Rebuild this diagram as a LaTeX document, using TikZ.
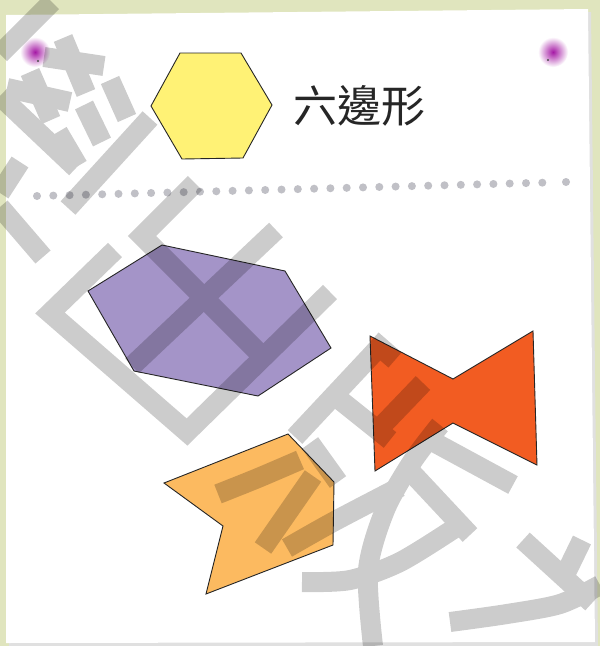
\documentclass[tikz,border=0pt]{standalone}
\usepackage{fontspec}
\newfontfamily\cjkfont{Noto Sans CJK TC}
\definecolor{boardbg}{RGB}{224,229,190}
\definecolor{hexyellow}{RGB}{255,242,117}
\definecolor{hexpurple}{RGB}{164,148,200}
\definecolor{bowred}{RGB}{242,92,34}
\definecolor{arrowtan}{RGB}{252,186,96}
\definecolor{dotgray}{RGB}{192,192,198}
\definecolor{pinpurple}{RGB}{165,25,165}
\tikzset{
  shapeline/.style={draw=black!85,line width=0.9pt,line join=miter},
  wmstroke/.style={line width=20pt,line cap=butt,line join=miter},
}
\begin{document}
\begin{tikzpicture}[x=1pt,y=-1pt]
  \useasboundingbox (0,0) rectangle (600,646);
  \fill[boardbg] (0,0) rectangle (600,646);
  \fill[black!12] (9,18) -- (591,12) -- (598,646) -- (9,646) -- cycle;
  \fill[white] (6,15) -- (588,9) -- (595,642) -- (6,643) -- cycle;
  \foreach \px/\py in {35/52,553/52}{
    \shade[inner color=pinpurple,outer color=white] (\px,\py) circle (15);
  }
  \fill[black!70] (38,61) circle (1.2);
  \fill[black!70] (548,60) circle (1.2);
  \draw[shapeline,fill=hexyellow] (151,106) -- (180,53) -- (241,53) -- (272,105) -- (243,158) -- (182,159) -- cycle;
  \node[font=\cjkfont\fontsize{44}{44}\selectfont,text=black!85] (hexlabel) at (359,106) {六邊形};
  \foreach \i in {0,...,31}{
    \fill[dotgray] ({37+16.3*\i},{196-0.43*\i}) circle (4);
  }
  \fill[dotgray] (566,182) circle (4);
  \draw[shapeline,fill=hexpurple] (88,291) -- (162,245) -- (285,271) -- (331,348) -- (258,396) -- (134,371) -- cycle;
  \draw[shapeline,fill=bowred] (370,336) -- (453,379) -- (533,331) -- (537,465) -- (453,423) -- (375,471) -- cycle;
  \draw[shapeline,fill=arrowtan] (164,483) -- (288,434) -- (334,482) -- (333,545) -- (206,594) -- (223,526) -- cycle;
  \begin{scope}[transparency group,opacity=0.2]
  \begin{scope}[wmstroke]
    \draw (52,2) -- (0,54);
    \draw (63,38) -- (86,93);
    \draw (44,57) -- (104,66);
    \draw (30,72) -- (51,120);
    \draw (7,88) -- (70,102);
    \draw (150,118) -- (68,208);
    \draw (110,80) -- (127,118);
    \draw (84,105) -- (102,142);
    \draw (58,132) -- (78,166);
    \draw (0,96) -- (76,168);
    \draw (0,193) -- (20,162);
    \draw (0,207) -- (43,257);
    \draw (195,183) -- (142,236) -- (262,356);
    \draw (276,230) -- (132,366);
    \draw (115,250) -- (50,313) -- (187,432) -- (330,292);
    \draw (383,343) -- (295,437);
    \draw (372,340) -- (395,360);
    \draw (340,400) -- (390,440);
    \draw (423,383) -- (376,432);
    \draw (310,443) -- (338,482);
    \draw plot[smooth] coordinates {(440,425) (412,462) (385,510) (368,570) (373,646)};
    \draw (430,440) -- (513,485);
    \draw (412,473) -- (470,535);
    \draw plot[smooth] coordinates {(302,582) (350,580) (400,562) (455,528)};
    \draw plot[smooth] coordinates {(218,494) (258,478) (300,460)};
    \draw (313,476) -- (263,548);
    \draw plot[smooth] coordinates {(287,548) (333,522) (400,487)};
    \draw (523,540) -- (592,603);
    \draw (582,540) -- (565,575);
    \draw plot[smooth] coordinates {(450,622) (507,614) (560,604) (600,585)};
  \end{scope}
  \end{scope}
\end{tikzpicture}
\end{document}
